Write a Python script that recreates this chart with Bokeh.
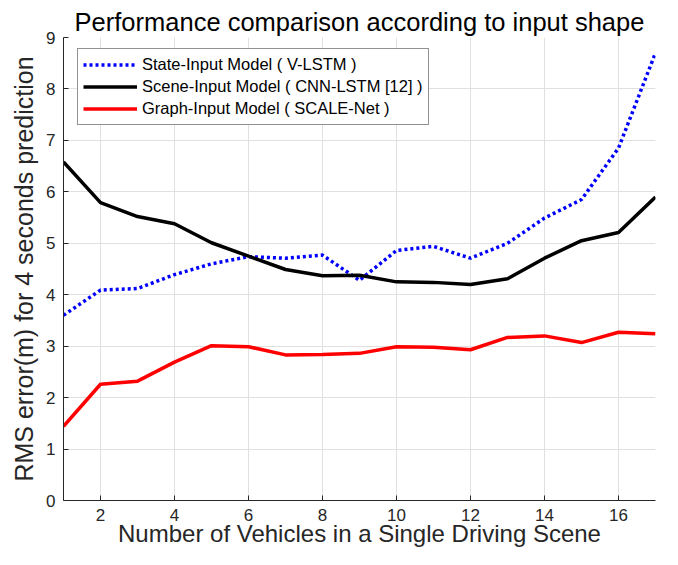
from bokeh.plotting import figure
from bokeh.models import Range1d, FixedTicker, Legend, LegendItem
from bokeh.embed import file_html
from bokeh.resources import INLINE

vehicles = list(range(1, 18))
state_input = [3.60, 4.09, 4.12, 4.39, 4.60, 4.74, 4.71, 4.77, 4.28, 4.86, 4.94, 4.71, 5.00, 5.49, 5.85, 6.85, 8.70]
scene_input = [6.58, 5.79, 5.52, 5.38, 5.01, 4.75, 4.49, 4.37, 4.38, 4.25, 4.24, 4.20, 4.31, 4.71, 5.05, 5.21, 5.90]
graph_input = [1.44, 2.26, 2.32, 2.69, 3.01, 2.99, 2.83, 2.84, 2.86, 2.99, 2.98, 2.93, 3.17, 3.20, 3.07, 3.27, 3.24]
x_ticks = [2, 4, 6, 8, 10, 12, 14, 16]
y_ticks = [0, 1, 2, 3, 4, 5, 6, 7, 8, 9]

title_text = "Performance comparison according to input shape"
x_label_text = "Number of Vehicles in a Single Driving Scene"
y_label_text = "RMS error(m) for 4 seconds prediction"

FONT = "Liberation Sans"
DARK = "#262626"

p = figure(width=662, height=549, output_backend="svg", toolbar_location=None,
           x_range=Range1d(1, 17), y_range=Range1d(0, 9),
           min_border_left=63, min_border_right=7, min_border_top=37, min_border_bottom=48,
           title=title_text)
p.outline_line_color = None
p.background_fill_color = "white"

p.title.text_font = FONT
p.title.text_font_size = "25.5px"
p.title.text_font_style = "normal"
p.title.text_color = "black"
p.title.align = "center"
p.title.standoff = 4
p.title.offset = 0

for ax in (p.xaxis[0], p.yaxis[0]):
    ax.axis_line_color = DARK
    ax.axis_line_width = 1
    ax.major_tick_line_color = DARK
    ax.major_tick_in = 5
    ax.major_tick_out = 0
    ax.minor_tick_line_color = None
    ax.major_label_text_font = FONT
    ax.major_label_text_font_size = "17px"
    ax.major_label_text_color = DARK
    ax.axis_label_text_font = FONT
    ax.axis_label_text_font_style = "normal"
    ax.axis_label_text_color = DARK

p.xaxis.ticker = FixedTicker(ticks=x_ticks)
p.yaxis.ticker = FixedTicker(ticks=y_ticks)
p.xaxis.axis_label = x_label_text
p.yaxis.axis_label = y_label_text
p.xaxis.axis_label_text_font_size = "24px"
p.yaxis.axis_label_text_font_size = "25px"
p.xaxis.major_label_standoff = 8
p.yaxis.major_label_standoff = 8
p.xaxis.axis_label_standoff = -4
p.yaxis.axis_label_standoff = 5

p.xgrid.grid_line_color = "#e0e0e0"
p.ygrid.grid_line_color = "#e0e0e0"
p.xgrid.grid_line_width = 1
p.ygrid.grid_line_width = 1

r1 = p.line(vehicles, state_input, line_color="#0000ff", line_width=3.5, line_dash="3 3")
r2 = p.line(vehicles, scene_input, line_color="black", line_width=3.5)
r3 = p.line(vehicles, graph_input, line_color="#ff0000", line_width=3.5)

legend = Legend(items=[
    LegendItem(label="State-Input Model ( V-LSTM )", renderers=[r1]),
    LegendItem(label="Scene-Input Model ( CNN-LSTM [12] )", renderers=[r2]),
    LegendItem(label="Graph-Input Model ( SCALE-Net )", renderers=[r3]),
], location=(14, 375))
legend.label_text_font = FONT
legend.label_text_font_size = "16.5px"
legend.label_text_color = "black"
legend.glyph_width = 54
legend.glyph_height = 21
legend.label_height = 21
legend.spacing = 1
legend.padding = 5
legend.margin = 0
legend.label_standoff = 5
legend.border_line_color = DARK
legend.border_line_width = 1
legend.background_fill_color = "white"
legend.background_fill_alpha = 1
p.add_layout(legend, "center")

open("out.html", "w").write(file_html(p, INLINE))
